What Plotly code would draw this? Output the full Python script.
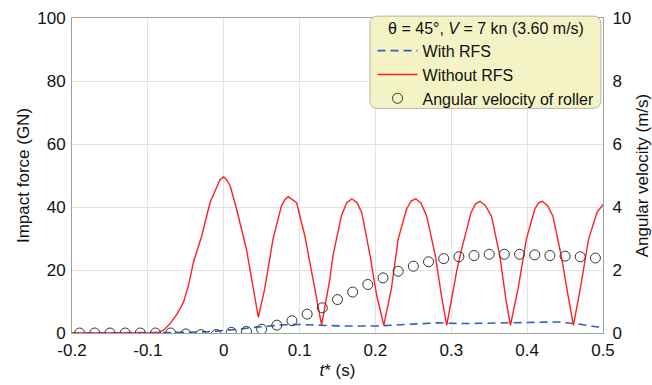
import plotly.graph_objects as go

# Without RFS (red), impact force in GN
t_without = [-0.2, -0.09, -0.084, -0.078, -0.071, -0.062, -0.053, -0.046, -0.040, -0.029, -0.018,
             -0.011, -0.005, 0.0, 0.004, 0.0087, 0.017, 0.030, 0.039, 0.0456,
             0.054, 0.065, 0.076, 0.081, 0.085, 0.091, 0.096, 0.107, 0.118, 0.129,
             0.140, 0.144, 0.155, 0.162, 0.169, 0.176, 0.182, 0.193, 0.2017, 0.211,
             0.221, 0.230, 0.241, 0.247, 0.253, 0.260, 0.2676, 0.279, 0.287, 0.294,
             0.307, 0.313, 0.326, 0.332, 0.338, 0.345, 0.353, 0.364, 0.372, 0.378,
             0.388, 0.399, 0.410, 0.415, 0.420, 0.427, 0.434, 0.445, 0.454, 0.461,
             0.470, 0.481, 0.492, 0.500]
f_without = [0, 0, 0.3, 1.2, 2.9, 5.8, 9.8, 15.5, 22.4, 30.8, 41.4,
             45.6, 48.6, 49.6, 48.6, 46.6, 39.3, 26.6, 14.0, 5.0,
             14.0, 29.8, 40.3, 42.5, 43.3, 42.3, 41.4, 30.8, 17.2, 2.6,
             17.2, 24.5, 37.1, 41.3, 42.6, 41.3, 38.2, 24.5, 11.9, 2.4,
             14.0, 29.8, 39.3, 41.9, 42.6, 41.3, 37.1, 24.5, 11.9, 2.4,
             19.5, 26.0, 38.2, 41.0, 41.8, 40.4, 37.1, 24.5, 10.7, 2.4,
             14.0, 29.8, 39.3, 41.3, 41.8, 40.4, 37.1, 24.5, 11.9, 2.4,
             14.0, 29.8, 38.2, 40.8]

# With RFS (blue dashed), impact force in GN
t_with = [-0.2, -0.08, -0.05, -0.02, 0.0, 0.02, 0.04, 0.06, 0.08, 0.1, 0.13, 0.16, 0.2, 0.24,
          0.28, 0.32, 0.36, 0.4, 0.44, 0.47, 0.5]
f_with = [0, 0, 0.2, 0.4, 0.7, 1.2, 1.8, 2.3, 2.6, 2.7, 2.5, 2.2, 2.2, 2.8,
          3.2, 3.0, 3.2, 3.5, 3.5, 2.8, 1.6]

# Angular velocity of roller (m/s)
t_omega = [-0.19, -0.17, -0.15, -0.13, -0.11, -0.09, -0.07, -0.05, -0.03, -0.01, 0.01, 0.03,
           0.05, 0.07, 0.09, 0.11, 0.13, 0.15, 0.17, 0.19, 0.21, 0.23, 0.25, 0.27, 0.29, 0.31,
           0.33, 0.35, 0.37, 0.39, 0.41, 0.43, 0.45, 0.47, 0.49]
omega = [0.0, 0.0, 0.0, 0.0, 0.0, 0.0, 0.0, -0.03, -0.05, -0.05, 0.02, 0.05,
         0.12, 0.25, 0.39, 0.6, 0.8, 1.06, 1.3, 1.54, 1.75, 1.96, 2.12, 2.26, 2.36, 2.42,
         2.46, 2.5, 2.5, 2.5, 2.48, 2.46, 2.44, 2.42, 2.38]

x_ticks = [-0.2, -0.1, 0, 0.1, 0.2, 0.3, 0.4, 0.5]
x_tick_labels = ["-0.2", "-0.1", "0", "0.1", "0.2", "0.3", "0.4", "0.5"]

FONT = "Arial, Liberation Sans, sans-serif"
TXT = "#111111"

fig = go.Figure()
fig.add_trace(go.Scatter(x=t_with, y=f_with, mode="lines", name="With RFS",
                         line=dict(color="#2f5fc8", width=1.6, dash="8px,5px"), yaxis="y"))
fig.add_trace(go.Scatter(x=t_without, y=f_without, mode="lines", name="Without RFS",
                         line=dict(color="#ff2020", width=1.4), yaxis="y"))
fig.add_trace(go.Scatter(x=t_omega, y=omega, mode="markers", name="Angular velocity of roller",
                         marker=dict(symbol="circle-open", size=10, color="#333333",
                                     line=dict(width=1, color="#333333")), yaxis="y2"))

# rounded legend box (paper coordinates)
x0, x1, y0, y1 = 0.561, 0.996, 0.713, 1.006
rx, ry = 0.015, 0.0255
path = (f"M {x0+rx},{y1} L {x1-rx},{y1} Q {x1},{y1} {x1},{y1-ry} L {x1},{y0+ry} "
        f"Q {x1},{y0} {x1-rx},{y0} L {x0+rx},{y0} Q {x0},{y0} {x0},{y0+ry} "
        f"L {x0},{y1-ry} Q {x0},{y1} {x0+rx},{y1} Z")
fig.add_shape(type="path", path=path, xref="paper", yref="paper",
              fillcolor="#f4f3c6", line=dict(color="#b8b8a8", width=1), layer="above")

fig.update_layout(
    width=652, height=385,
    margin=dict(l=72, r=49, t=18, b=52, autoexpand=False),
    paper_bgcolor="white", plot_bgcolor="white",
    font=dict(family=FONT, size=17, color=TXT),
    showlegend=True,
    legend=dict(
        x=0.566, y=1.016, xanchor="left", yanchor="top",
        bgcolor="rgba(0,0,0,0)", borderwidth=0,
        font=dict(family=FONT, size=16, color=TXT),
        title=dict(text="θ = 45°, <i>V</i> = 7 kn (3.60 m/s)", side="top center",
                   font=dict(family=FONT, size=16, color=TXT)),
        tracegroupgap=0, itemwidth=40,
    ),
    xaxis=dict(range=[-0.2, 0.5], tickvals=x_ticks, ticktext=x_tick_labels,
               showgrid=True, gridcolor="#e3e3e3", gridwidth=1,
               showline=True, linecolor="#a0a0a0", linewidth=1, mirror=True,
               zeroline=False, ticks="outside", ticklen=2, tickcolor="rgba(0,0,0,0)",
               automargin=False,
               title=dict(text="<i>t</i>* (s)", standoff=4, font=dict(size=17)),
               tickfont=dict(size=17)),
    yaxis=dict(range=[0, 100], dtick=20, showgrid=True, gridcolor="#e3e3e3", gridwidth=1,
               showline=True, linecolor="#a0a0a0", linewidth=1, mirror=False,
               zeroline=False, ticks="outside", ticklen=2, tickcolor="rgba(0,0,0,0)",
               automargin=False,
               title=dict(text="Impact force (GN)", standoff=3, font=dict(size=17)),
               tickfont=dict(size=17)),
    yaxis2=dict(range=[0, 10], dtick=2, overlaying="y", side="right",
                showgrid=False, showline=True, linecolor="#a0a0a0", linewidth=1,
                zeroline=False, ticks="outside", ticklen=5, tickcolor="rgba(0,0,0,0)",
                automargin=False,
                title=dict(text="Angular velocity (m/s)", standoff=6, font=dict(size=17)),
                tickfont=dict(size=17)),
)

fig.write_html("out.html", config={"displayModeBar": False},
               post_script="document.body.style.margin='0';")
